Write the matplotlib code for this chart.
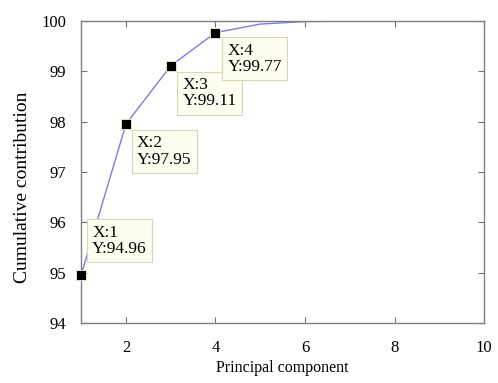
import matplotlib
matplotlib.use("Agg")
import matplotlib.pyplot as plt

plt.rcParams["font.family"] = ["Liberation Serif", "DejaVu Serif"]

# cumulative contribution of principal components (%)
components = [1, 2, 3, 4, 5, 6, 7, 8, 9, 10]
cumulative = [94.96, 97.95, 99.11, 99.77, 99.94, 99.99, 100.0, 100.0, 100.0, 100.0]

# data tips: (index into components, offset of text corner in pixels)
tip_idx = [0, 1, 2, 3]
tip_offsets = [(11, 50), (11, -11), (12, -11), (12, -10)]

fig = plt.figure(figsize=(4.98, 3.83), dpi=100)
ax = fig.add_axes([0.163, 0.157, 0.809, 0.788])

ax.plot(components, cumulative, color="#7c7ce4", lw=1.0, zorder=2)

for i, (dx, dy) in zip(tip_idx, tip_offsets):
    x, y = components[i], cumulative[i]
    ax.plot(x, y, marker="s", ms=7.5, color="black", mec="#f2f2c0", mew=0.6,
            zorder=6, clip_on=False)
    ax.annotate(f"X:{x}\nY:{y:.2f}", xy=(x, y), xytext=(dx, dy),
                textcoords="offset pixels", ha="left", va="top",
                fontsize=12.5, linespacing=1.05, zorder=5,
                bbox=dict(boxstyle="square,pad=0.3", fc="#fdfdf0",
                          ec="#d6d6b8", lw=0.8))

ax.set_xlim(1, 10)
ax.set_ylim(94, 100)
ax.set_xticks([2, 4, 6, 8, 10])
ax.set_yticks([94, 95, 96, 97, 98, 99, 100])
ax.tick_params(direction="in", length=4, width=0.8, color="#707070",
               top=True, right=True, labelsize=12)
ax.tick_params(axis="x", pad=12)
ax.tick_params(axis="y", pad=11)
for sp in ax.spines.values():
    sp.set_color("#808080")
    sp.set_linewidth(1.0)

ax.set_xlabel("Principal component", fontsize=11.5, labelpad=3)
ax.set_ylabel("Cumulative contribution", fontsize=14)
ax.yaxis.set_label_coords(-0.125, 0.45)

fig.savefig("out.png", dpi=100, facecolor="white")
